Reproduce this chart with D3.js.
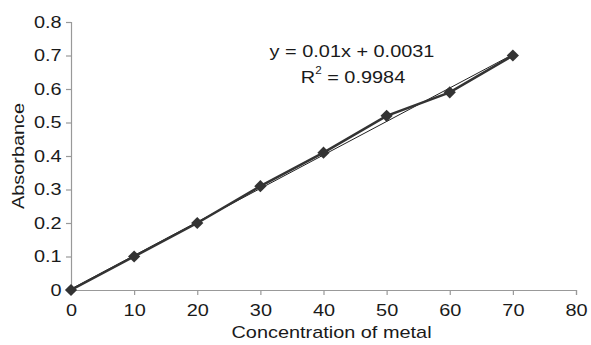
<!DOCTYPE html>
<html>
<head>
<meta charset="utf-8">
<script src="https://cdn.jsdelivr.net/npm/d3@7"></script>
<style>
  body { margin: 0; background: #fff; }
  text { font-family: "Liberation Sans", Arial, sans-serif; fill: #1a1a1a; }
</style>
</head>
<body>
<div id="chart"></div>
<script>
const concentration = [0, 10, 20, 30, 40, 50, 60, 70];
const absorbance = [0, 0.10, 0.20, 0.31, 0.41, 0.52, 0.59, 0.70];
const xTicks = [0, 10, 20, 30, 40, 50, 60, 70, 80];
const yTicks = [0, 0.1, 0.2, 0.3, 0.4, 0.5, 0.6, 0.7, 0.8];
const slope = 0.01, intercept = 0.0031;

const W = 591, H = 345;
const fs = 17, sx = 1.17; // text is a little wide in the original

const svg = d3.select("#chart").append("svg")
  .attr("width", W).attr("height", H);

const x = d3.scaleLinear().domain([0, 80]).range([71, 576]);
const y = d3.scaleLinear().domain([0, 0.8]).range([290, 22]);

// axes
const xAxis = svg.append("g")
  .attr("transform", `translate(0,${y(0)})`)
  .call(d3.axisBottom(x).tickValues(xTicks).tickSize(5).tickPadding(9).tickFormat(d3.format("d")));
const yAxis = svg.append("g")
  .attr("transform", `translate(${x(0)},0)`)
  .call(d3.axisLeft(y).tickValues(yTicks).tickSize(5).tickPadding(3).tickFormat(d => d === 0 ? "0" : d3.format(".1f")(d)));

[xAxis, yAxis].forEach(a => {
  a.select(".domain").attr("stroke", "#999").attr("stroke-width", 1.2);
  a.selectAll(".tick line").attr("stroke", "#999").attr("stroke-width", 1.2);
  a.selectAll("text").attr("font-size", fs).attr("fill", "#1a1a1a")
    .attr("transform", `scale(${sx},1)`)
    .style("font-family", "'Liberation Sans', Arial, sans-serif");
});

// trendline
svg.append("line")
  .attr("x1", x(0)).attr("y1", y(intercept))
  .attr("x2", x(70)).attr("y2", y(slope * 70 + intercept))
  .attr("stroke", "#222").attr("stroke-width", 1);

const pts = concentration.map((c, i) => [c, absorbance[i]]);

svg.append("path")
  .datum(pts)
  .attr("fill", "none")
  .attr("stroke", "#333")
  .attr("stroke-width", 2.5)
  .attr("d", d3.line().x(d => x(d[0])).y(d => y(d[1])));

svg.selectAll(".pt")
  .data(pts)
  .enter().append("path")
  .attr("class", "pt")
  .attr("transform", d => `translate(${x(d[0])},${y(d[1])})`)
  .attr("d", d3.symbol(d3.symbolDiamond2, 95)())
  .attr("fill", "#333");

// equation
svg.append("text")
  .attr("transform", `translate(352,57) scale(${sx},1)`)
  .attr("text-anchor", "middle")
  .attr("font-size", fs)
  .text("y = 0.01x + 0.0031");

const r2 = svg.append("text")
  .attr("transform", `translate(353,83) scale(${sx},1)`)
  .attr("text-anchor", "middle")
  .attr("font-size", fs);
r2.append("tspan").text("R");
r2.append("tspan").attr("dy", -9).attr("font-size", 10).text("2");
r2.append("tspan").attr("dy", 9).text(" = 0.9984");

// axis titles
svg.append("text")
  .attr("transform", `translate(${(x(0) + x(80)) / 2 + 8},338) scale(${sx},1)`)
  .attr("text-anchor", "middle")
  .attr("font-size", fs)
  .text("Concentration of metal");

svg.append("text")
  .attr("transform", `translate(24,${(y(0) + y(0.8)) / 2}) rotate(-90) scale(${sx},1)`)
  .attr("text-anchor", "middle")
  .attr("font-size", fs)
  .text("Absorbance");
</script>
</body>
</html>
